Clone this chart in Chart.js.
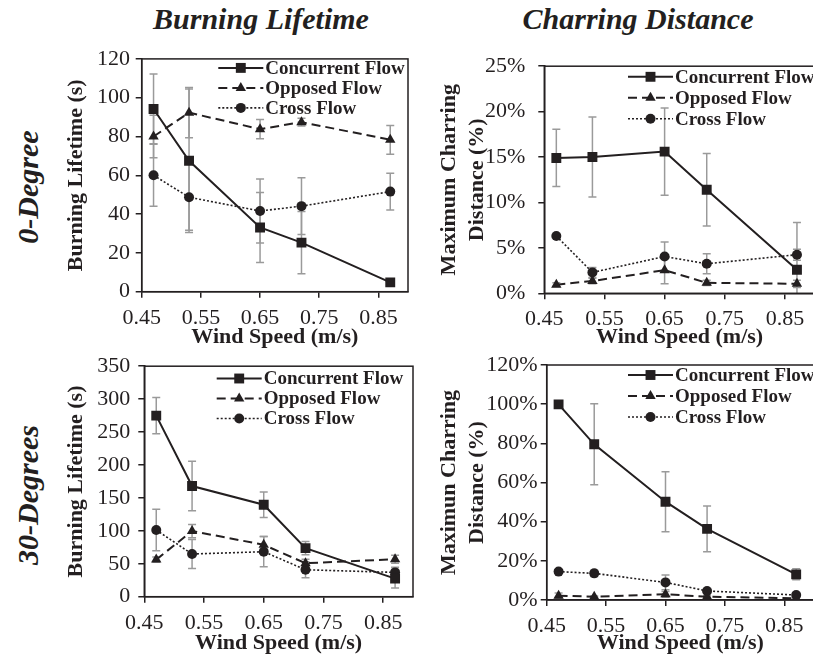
<!DOCTYPE html>
<html>
<head>
<meta charset="utf-8">
<script src="https://cdn.jsdelivr.net/npm/chart.js@4.4.1/dist/chart.umd.min.js"></script>
<style>
  html, body { margin: 0; padding: 0; background: #fff; overflow: hidden; }
  #page { position: relative; width: 813px; height: 657px; overflow: hidden;
          font-family: "Liberation Serif", "Times New Roman", serif; color: #231f20; }
  canvas { position: absolute; }
  .colTitle { position: absolute; top: 2px; font-weight: bold; font-style: italic; font-size: 30px;
              white-space: nowrap; transform: translateX(-50%); }
  .rowTitle { position: absolute; font-weight: bold; font-style: italic; font-size: 30px;
              white-space: nowrap; transform: translate(-50%, -50%) rotate(-90deg); }
</style>
</head>
<body>
<div id="page">
  <div class="colTitle" style="left:261px">Burning Lifetime</div>
  <div class="colTitle" style="left:638px">Charring Distance</div>
  <div class="rowTitle" style="left:28px; top:187px">0-Degree</div>
  <div class="rowTitle" style="left:28px; top:495px">30-Degrees</div>
  <canvas id="c1" width="370" height="311" style="left:50px; top:40px"></canvas>
  <canvas id="c2" width="400" height="311" style="left:425px; top:40px"></canvas>
  <canvas id="c3" width="375" height="312" style="left:50px; top:345px"></canvas>
  <canvas id="c4" width="400" height="312" style="left:425px; top:345px"></canvas>
</div>
<script>
// wind speeds tested (m/s) and axis ticks
const windSpeed = [0.47, 0.53, 0.65, 0.72, 0.87];
const xTicks = [0.45, 0.55, 0.65, 0.75, 0.85];
const seriesNames = ["Concurrent Flow", "Opposed Flow", "Cross Flow"];

// 0-degree, burning lifetime (s)
const life0Concurrent = [94.2, 67.5, 33.1, 25.3, 4.8];
const life0ConcurrentErr = [18, 37, 18, 16, 1];
const life0Opposed = [80, 92.3, 83.8, 87.4, 78.3];
const life0OpposedErr = [11, 13, 5, 2, 7.4];
const life0Cross = [60, 48.7, 41.6, 44.1, 51.6];
const life0CrossErr = [16, 17, 16.5, 14.6, 9.5];
const life0Ticks = [0, 20, 40, 60, 80, 100, 120];

// 0-degree, maximum charring distance (%)
const char0Concurrent = [14.9, 15.0, 15.6, 11.4, 2.6];
const char0ConcurrentErr = [3.15, 4.4, 4.8, 4.0, 5.2];
const char0Opposed = [0.95, 1.35, 2.55, 1.15, 1.05];
const char0OpposedErr = [0.2, 0.3, 1.5, 0.3, 0.4];
const char0Cross = [6.3, 2.3, 4.05, 3.25, 4.25];
const char0CrossErr = [0.1, 0.55, 1.6, 1.1, 0.6];
const char0Ticks = [0, 5, 10, 15, 20, 25];

// 30-degree, burning lifetime (s)
const life30Concurrent = [275, 168, 139.6, 73.8, 27.4];
const life30ConcurrentErr = [27.5, 37.5, 19.5, 10, 14];
const life30Opposed = [56.3, 99.7, 78.8, 50.8, 56.8];
const life30OpposedErr = [4, 10, 12.5, 6, 6];
const life30Cross = [101.2, 64.8, 68.3, 40.9, 36.9];
const life30CrossErr = [31.4, 22, 23, 12, 8];
const life30Ticks = [0, 50, 100, 150, 200, 250, 300, 350];

// 30-degree, maximum charring distance (%)
const char30Concurrent = [99.9, 79.5, 50.2, 36.3, 13.1];
const char30ConcurrentErr = [0.3, 20.7, 15.3, 11.7, 2.8];
const char30Opposed = [2.2, 1.7, 2.9, 1.7, 0.85];
const char30OpposedErr = [1.4, 0.4, 1.5, 0.5, 0.5];
const char30Cross = [14.5, 13.6, 9.0, 4.6, 2.55];
const char30CrossErr = [0.8, 1.6, 3.8, 1.0, 1.2];
const char30Ticks = [0, 20, 40, 60, 80, 100, 120];

const ink = "#231f20";
const serif = "'Liberation Serif', 'Times New Roman', serif";

// line / marker look of each flow
const seriesStyles = [
  { dash: [], width: 2, pointStyle: "rect", radius: 7 },
  { dash: [9, 5], width: 2, pointStyle: "triangle", radius: 6 },
  { dash: [2, 2], width: 1.6, pointStyle: "circle", radius: 5 },
];

function drawMarker(ctx, style, x, y) {
  const r = style.radius;
  ctx.beginPath();
  if (style.pointStyle === "rect") {
    const s = r * Math.SQRT1_2;
    ctx.rect(x - s, y - s, 2 * s, 2 * s);
  } else if (style.pointStyle === "triangle") {
    let a = 0;
    ctx.moveTo(x + Math.sin(a) * r, y - Math.cos(a) * r);
    a += 2 * Math.PI / 3;
    ctx.lineTo(x + Math.sin(a) * r, y - Math.cos(a) * r);
    a += 2 * Math.PI / 3;
    ctx.lineTo(x + Math.sin(a) * r, y - Math.cos(a) * r);
    ctx.closePath();
  } else {
    ctx.arc(x, y, r, 0, Math.PI * 2);
  }
  ctx.fill();
}

// gray error bars behind the markers
const errorBarPlugin = {
  id: "errorBars",
  beforeDatasetsDraw(chart) {
    const { ctx, chartArea, scales: { x, y } } = chart;
    ctx.save();
    ctx.beginPath();
    ctx.rect(chartArea.left, chartArea.top, chartArea.width, chartArea.height);
    ctx.clip();
    ctx.strokeStyle = "#9a9a9a";
    ctx.lineWidth = 1.5;
    chart.data.datasets.forEach((ds) => {
      ds.errors.forEach((e, i) => {
        const px = x.getPixelForValue(ds.data[i].x);
        const top = y.getPixelForValue(ds.data[i].y + e);
        const bot = y.getPixelForValue(ds.data[i].y - e);
        ctx.beginPath();
        ctx.moveTo(px, top); ctx.lineTo(px, bot);
        ctx.moveTo(px - 4, top); ctx.lineTo(px + 4, top);
        ctx.moveTo(px - 4, bot); ctx.lineTo(px + 4, bot);
        ctx.stroke();
      });
    });
    ctx.restore();
  },
};

// box around the plot area
const framePlugin = {
  id: "frame",
  afterDraw(chart) {
    const { ctx, chartArea } = chart;
    ctx.save();
    ctx.strokeStyle = ink;
    ctx.lineWidth = 1.5;
    ctx.strokeRect(chartArea.left, chartArea.top, chartArea.width, chartArea.height);
    ctx.restore();
  },
};

// legend with line sample + marker, inside the plot
const insideLegendPlugin = {
  id: "insideLegend",
  afterDraw(chart, args, opts) {
    const { ctx, chartArea } = chart;
    ctx.save();
    ctx.font = "bold 19px " + serif;
    ctx.textBaseline = "middle";
    ctx.fillStyle = ink;
    ctx.strokeStyle = ink;
    seriesNames.forEach((name, i) => {
      const st = seriesStyles[i];
      const x0 = chartArea.left + opts.x;
      const y = chartArea.top + opts.y + i * opts.gap;
      ctx.lineWidth = st.width;
      ctx.setLineDash(st.dash);
      ctx.beginPath();
      ctx.moveTo(x0, y);
      ctx.lineTo(x0 + 45, y);
      ctx.stroke();
      ctx.setLineDash([]);
      drawMarker(ctx, st, x0 + 22.5, y);
      ctx.fillText(name, x0 + 47, y + 1);
    });
    ctx.restore();
  },
};

function makePanel(id, values, errors, yTicks, yTitle, percent, cfg) {
  const datasets = values.map((vals, i) => ({
    label: seriesNames[i],
    data: vals.map((v, j) => ({ x: windSpeed[j], y: v })),
    errors: errors[i],
    showLine: true,
    borderColor: ink,
    backgroundColor: ink,
    borderWidth: seriesStyles[i].width,
    borderDash: seriesStyles[i].dash,
    pointStyle: seriesStyles[i].pointStyle,
    pointRadius: seriesStyles[i].radius,
    pointBorderWidth: 0,
    pointBackgroundColor: ink,
    tension: 0,
  }));

  const tickFont = { family: serif, size: 22 };
  const titleFont = { family: serif, size: 22, weight: "bold", lineHeight: 1.27 };

  new Chart(document.getElementById(id), {
    type: "scatter",
    data: { datasets },
    options: {
      responsive: false,
      animation: false,
      devicePixelRatio: 1,
      layout: { padding: cfg.padding },
      plugins: {
        legend: { display: false },
        tooltip: { enabled: false },
        insideLegend: cfg.legend,
      },
      scales: {
        x: {
          type: "linear",
          min: 0.45,
          max: 0.9,
          afterBuildTicks: (s) => { s.ticks = xTicks.map((v) => ({ value: v })); },
          afterFit: (s) => { s.height = cfg.xAxisHeight; },
          grid: { drawOnChartArea: false, drawTicks: true, tickLength: 6, color: ink, lineWidth: 1.5 },
          border: { color: ink, width: 1.5 },
          ticks: {
            font: tickFont, color: ink, padding: cfg.xTickPad,
            maxRotation: 0, autoSkip: false,
            callback: (v) => v.toFixed(2),
          },
          title: { display: true, text: "Wind Speed (m/s)", font: titleFont, color: ink,
                   padding: { top: 0, bottom: 0 } },
        },
        y: {
          min: yTicks[0],
          max: yTicks[yTicks.length - 1],
          afterBuildTicks: (s) => { s.ticks = yTicks.map((v) => ({ value: v })); },
          afterFit: (s) => { s.width = cfg.yAxisWidth; },
          grid: { drawOnChartArea: false, drawTicks: true, tickLength: 6, color: ink, lineWidth: 1.5 },
          border: { color: ink, width: 1.5 },
          ticks: {
            font: tickFont, color: ink, padding: cfg.yTickPad,
            callback: (v) => (percent ? v + "%" : v),
          },
          title: { display: true, text: yTitle, font: titleFont, color: ink,
                   padding: { top: cfg.yTitlePad, bottom: 0 } },
        },
      },
    },
    plugins: [errorBarPlugin, framePlugin, insideLegendPlugin],
  });
}

makePanel("c1",
  [life0Concurrent, life0Opposed, life0Cross],
  [life0ConcurrentErr, life0OpposedErr, life0CrossErr],
  life0Ticks, "Burning Lifetime (s)", false,
  { padding: { left: 0, top: 16, right: 12, bottom: 0 }, yAxisWidth: 91.7, xAxisHeight: 59.3,
    yTitlePad: 12, yTickPad: 5.7, xTickPad: 7, legend: { x: 76.6, y: 9, gap: 20 } });

makePanel("c2",
  [char0Concurrent, char0Opposed, char0Cross],
  [char0ConcurrentErr, char0OpposedErr, char0CrossErr],
  char0Ticks, ["Maximum Charring", "Distance (%)"], true,
  { padding: { left: 0, top: 16.7, right: 10, bottom: 0 }, yAxisWidth: 119.3, xAxisHeight: 57.7,
    yTitlePad: 10, yTickPad: 13, xTickPad: 7, legend: { x: 83.7, y: 10.6, gap: 21 } });

makePanel("c3",
  [life30Concurrent, life30Opposed, life30Cross],
  [life30ConcurrentErr, life30OpposedErr, life30CrossErr],
  life30Ticks, "Burning Lifetime (s)", false,
  { padding: { left: 0, top: 17.7, right: 12, bottom: 0 }, yAxisWidth: 94.3, xAxisHeight: 60.3,
    yTitlePad: 12.5, yTickPad: 8, xTickPad: 7, legend: { x: 72.4, y: 12.3, gap: 20 } });

makePanel("c4",
  [char30Concurrent, char30Opposed, char30Cross],
  [char30ConcurrentErr, char30OpposedErr, char30CrossErr],
  char30Ticks, ["Maximun Charring", "Distance (%)"], true,
  { padding: { left: 0, top: 20, right: 11, bottom: 0 }, yAxisWidth: 121.7, xAxisHeight: 57,
    yTitlePad: 10, yTickPad: 3, xTickPad: 7, legend: { x: 81.3, y: 10, gap: 21 } });
</script>
</body>
</html>
